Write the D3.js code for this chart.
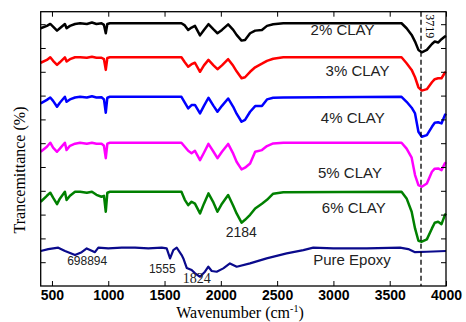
<!DOCTYPE html>
<html><head><meta charset="utf-8">
<script src="https://cdn.jsdelivr.net/npm/d3@7"></script>
<style>
html,body{margin:0;padding:0;background:#fff;}
svg{display:block;}
</style></head>
<body>
<svg id="chart" width="466" height="322"></svg>
<script>
// ---------- DATA ----------
const xTicks = [500, 1000, 1500, 2000, 2500, 3000, 3500, 4000];
const yTicks = [1, 2, 3, 4, 5, 6, 7, 8, 9, 10, 11];

const wavenumbers = [400, 455, 485, 510, 545, 570, 615, 630, 660, 705, 750, 810, 855, 895, 940, 962, 978, 992, 1015,
  1650, 1680, 1710, 1740, 1770, 1815, 1850, 1890, 1935, 1970, 2010, 2065, 2110, 2140, 2184, 2215, 2260, 2305, 2365, 2410, 2465, 2555,
  3605, 3650, 3695, 3725, 3755, 3785, 3830, 3875, 3900, 3930, 3960, 3990, 4000];

const clay2 = [10.83, 10.93, 11.01, 10.90, 10.73, 10.83, 11.01, 10.83, 10.93, 11.01, 11.04, 11.01, 11.07, 11.01, 11.04, 10.97, 10.62, 11.01, 11.04,
  11.04, 10.95, 10.76, 10.86, 10.93, 10.53, 10.76, 11.00, 10.78, 10.62, 10.76, 10.99, 10.76, 10.55, 10.31, 10.34, 10.62, 10.73, 10.76, 10.93, 11.00, 11.04,
  11.04, 10.83, 10.55, 10.27, 9.92, 9.82, 9.92, 10.17, 10.27, 10.23, 10.37, 10.48, 10.51];

const clay3 = [9.38, 9.50, 9.61, 9.46, 9.29, 9.40, 9.61, 9.43, 9.53, 9.61, 9.61, 9.59, 9.63, 9.59, 9.59, 9.53, 9.08, 9.58, 9.61,
  9.61, 9.40, 9.21, 9.32, 9.38, 9.00, 9.27, 9.50, 9.27, 9.11, 9.27, 9.53, 9.25, 9.02, 8.73, 8.77, 9.00, 9.19, 9.34, 9.46, 9.55, 9.61,
  9.61, 9.36, 9.08, 8.77, 8.35, 8.21, 8.27, 8.56, 8.69, 8.73, 8.73, 8.96, 9.00];

const clay4 = [7.67, 7.82, 7.92, 7.78, 7.53, 7.70, 7.95, 7.74, 7.84, 7.92, 7.95, 7.92, 7.97, 7.92, 7.93, 7.84, 7.28, 7.91, 7.95,
  7.95, 7.70, 7.46, 7.60, 7.61, 7.25, 7.57, 7.91, 7.57, 7.32, 7.57, 7.88, 7.53, 7.24, 6.90, 6.98, 7.32, 7.56, 7.56, 7.84, 7.91, 7.92,
  7.95, 7.74, 7.49, 7.25, 6.48, 6.27, 6.34, 6.69, 6.86, 6.88, 6.83, 7.18, 7.24];

const clay5 = [5.64, 5.85, 6.02, 5.81, 5.64, 5.77, 6.02, 5.71, 5.89, 5.98, 6.02, 5.98, 6.02, 5.98, 5.98, 5.89, 5.37, 5.98, 6.02,
  6.02, 5.85, 5.68, 5.58, 5.68, 5.29, 5.60, 5.97, 5.64, 5.37, 5.64, 5.97, 5.56, 5.22, 4.90, 4.97, 5.15, 5.64, 5.71, 5.88, 5.99, 6.02,
  6.02, 5.77, 5.39, 4.66, 4.24, 4.17, 4.31, 4.80, 4.93, 4.94, 4.87, 5.15, 5.20];

const clay6 = [3.54, 3.79, 3.92, 3.71, 3.44, 3.67, 3.96, 3.61, 3.79, 3.96, 3.96, 3.92, 3.96, 3.83, 3.75, 3.79, 3.12, 3.92, 3.96,
  3.96, 3.62, 3.40, 3.54, 3.46, 3.05, 3.46, 3.89, 3.50, 3.12, 3.46, 3.82, 3.37, 3.05, 2.66, 2.78, 2.99, 3.26, 3.46, 3.62, 3.88, 3.94,
  3.96, 3.68, 3.12, 2.42, 1.90, 1.86, 1.96, 2.42, 2.66, 2.70, 2.60, 2.98, 3.04];

const epoxyWavenumbers = [400, 467, 556, 616, 705, 764, 809, 882, 912, 1000, 1120, 1238, 1356, 1475, 1519, 1549, 1578, 1608, 1652, 1667,
  1697, 1741, 1771, 1815, 1859, 1889, 1919, 1963, 2022, 2081, 2141, 2259, 2407, 2585, 2733, 2821, 2999, 3296, 3592, 3665, 3725, 3829, 4000];
const epoxy = [1.47, 1.55, 1.61, 1.47, 1.30, 1.42, 1.58, 1.42, 1.61, 1.58, 1.61, 1.61, 1.58, 1.61, 1.58, 1.16, 1.51, 1.61, 1.30, 1.16,
  0.76, 0.67, 0.53, 0.39, 0.60, 0.81, 0.63, 0.60, 0.74, 0.95, 0.81, 0.95, 1.16, 1.37, 1.51, 1.61, 1.58, 1.58, 1.61, 1.55, 1.42, 1.44, 1.47];

const seriesNames = ["2% CLAY", "3% CLAY", "4% CLAY", "5% CLAY", "6% CLAY", "Pure Epoxy"];
const seriesColors = ["#000000", "#ff0000", "#0000ff", "#ff00ff", "#008000", "#0a0a8c"];
const labelX = [3081, 3214, 3172, 3147, 3181, 3165];
const labelY = [10.53, 8.84, 6.83, 4.52, 3.08, 0.88];

const peakLabels = ["2184", "698894", "1555", "1824"];
const peakX = [2181, 813, 1480, 1786];
const peakY = [2.05, 0.88, 0.53, 0.11];
const refLine = 3778;
const refLabel = "3719";

// ---------- CHART ----------
const svg = d3.select("#chart");
const L = 40.7, R = 446, T = 11.7, B = 286;
const x = d3.scaleLinear().domain([400, 4000]).range([L, R]);
const y = d3.scaleLinear().domain([0, 11.525]).range([B, T]);

const seriesData = [
  wavenumbers.map((w, i) => [w, clay2[i]]),
  wavenumbers.map((w, i) => [w, clay3[i]]),
  wavenumbers.map((w, i) => [w, clay4[i]]),
  wavenumbers.map((w, i) => [w, clay5[i]]),
  wavenumbers.map((w, i) => [w, clay6[i]]),
  epoxyWavenumbers.map((w, i) => [w, epoxy[i]])
];

const line = d3.line().x(d => x(d[0])).y(d => y(d[1])).curve(d3.curveLinear);

svg.append("g").selectAll("path").data(seriesData).join("path")
  .attr("d", line)
  .attr("fill", "none")
  .attr("stroke", (d, i) => seriesColors[i])
  .attr("stroke-width", (d, i) => i === 5 ? 2.2 : 2.5)
  .attr("stroke-linejoin", "round");

// dashed reference line
svg.append("line")
  .attr("x1", x(refLine)).attr("x2", x(refLine))
  .attr("y1", y(11.525)).attr("y2", y(0))
  .attr("stroke", "#000").attr("stroke-width", 1.3)
  .attr("stroke-dasharray", "5,3");

svg.append("text")
  .attr("transform", `translate(${x(3858)},${y(10.91)}) rotate(90)`)
  .attr("text-anchor", "middle")
  .attr("dy", "0.35em")
  .attr("font-family", "Liberation Serif, Times New Roman, serif")
  .attr("font-size", 12)
  .text(refLabel);

// axes
const xb = svg.append("g").attr("transform", `translate(0,${B})`)
  .call(d3.axisBottom(x).tickValues(xTicks).tickFormat(d3.format("d")).tickSizeInner(-5).tickSizeOuter(0).tickPadding(4));
xb.select(".domain").remove();
xb.selectAll("text").attr("font-family", "Liberation Sans, Arial, sans-serif")
  .attr("font-size", 14).attr("font-weight", "bold").attr("fill", "#000");

const xt = svg.append("g").attr("transform", `translate(0,${T})`)
  .call(d3.axisTop(x).tickValues(xTicks).tickSizeInner(-5).tickSizeOuter(0).tickFormat(""));
xt.select(".domain").remove();

const yl = svg.append("g").attr("transform", `translate(${L},0)`)
  .call(d3.axisLeft(y).tickValues(yTicks).tickSizeInner(-5).tickSizeOuter(0).tickFormat(""));
yl.select(".domain").remove();
const yr = svg.append("g").attr("transform", `translate(${R},0)`)
  .call(d3.axisRight(y).tickValues(yTicks).tickSizeInner(-5).tickSizeOuter(0).tickFormat(""));
yr.select(".domain").remove();
svg.selectAll(".tick line").attr("stroke", "#000").attr("stroke-width", 1);

svg.append("rect").attr("x", L).attr("y", T).attr("width", R - L).attr("height", B - T)
  .attr("fill", "none").attr("stroke", "#000").attr("stroke-width", 1.3);

// series labels
svg.append("g").selectAll("text").data(seriesNames).join("text")
  .attr("x", (d, i) => x(labelX[i]))
  .attr("y", (d, i) => y(labelY[i]))
  .attr("text-anchor", "middle")
  .attr("font-family", "Liberation Sans, Arial, sans-serif")
  .attr("font-size", 15)
  .attr("fill", "#222")
  .text(d => d);

// peak labels
const peakFonts = ["Liberation Sans, Arial, sans-serif", "Liberation Sans, Arial, sans-serif", "Liberation Sans, Arial, sans-serif", "Liberation Serif, Times New Roman, serif"];
const peakSizes = [14, 12, 12, 14];
svg.append("g").selectAll("text").data(peakLabels).join("text")
  .attr("x", (d, i) => x(peakX[i]))
  .attr("y", (d, i) => y(peakY[i]))
  .attr("text-anchor", "middle")
  .attr("font-family", (d, i) => peakFonts[i])
  .attr("font-size", (d, i) => peakSizes[i])
  .attr("fill", "#222")
  .text(d => d);

// axis titles
const xt2 = svg.append("text")
  .attr("x", 240).attr("y", 318)
  .attr("text-anchor", "middle")
  .attr("font-family", "Liberation Serif, Times New Roman, serif")
  .attr("font-size", 16).attr("fill", "#000");
xt2.append("tspan").text("Wavenumber (cm");
xt2.append("tspan").attr("font-size", 10).attr("dy", -6).text("-1");
xt2.append("tspan").attr("dy", 6).text(")");

svg.append("text")
  .attr("transform", `translate(25,170) rotate(-90)`)
  .attr("text-anchor", "middle")
  .attr("font-family", "Liberation Serif, Times New Roman, serif")
  .attr("font-size", 16).attr("fill", "#000")
  .text("Trancemittance (%)");
</script>
</body></html>
